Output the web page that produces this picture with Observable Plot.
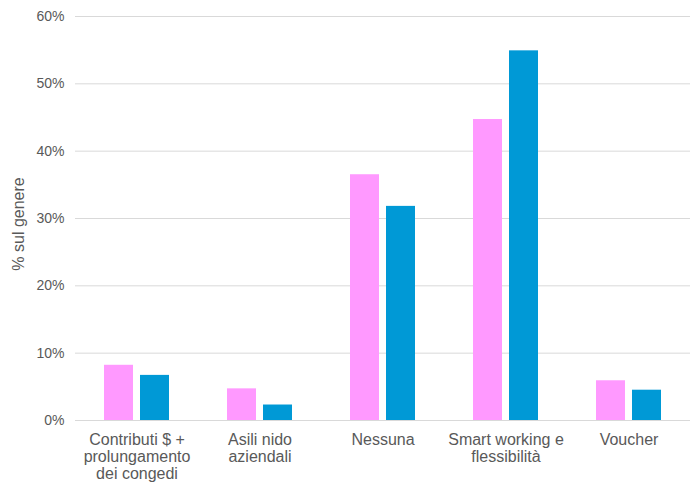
<!DOCTYPE html>
<html>
<head>
<meta charset="utf-8">
<script src="https://cdn.jsdelivr.net/npm/d3@7"></script>
<script src="https://cdn.jsdelivr.net/npm/@observablehq/plot@0.6"></script>
<style>
  html, body { margin: 0; padding: 0; background: #fff; }
</style>
</head>
<body>
<div id="chart"></div>
<script>
// Categories of family support measures (labels wrap onto several lines)
const categories = [
  "Contributi $ +\nprolungamento\ndei congedi",
  "Asili nido\naziendali",
  "Nessuna",
  "Smart working e\nflessibilità",
  "Voucher"
];
const series = ["Donne", "Uomini"];
// Percentage of respondents within each gender
const donne = [8.2, 4.7, 36.5, 44.7, 5.9];
const uomini = [6.7, 2.3, 31.8, 54.9, 4.5];
const yTicks = [0, 10, 20, 30, 40, 50, 60];

const data = categories.flatMap((c, i) => [
  {cat: c, series: "Donne", value: donne[i]},
  {cat: c, series: "Uomini", value: uomini[i]}
]);

const chart = Plot.plot({
  width: 690,
  height: 484,
  marginLeft: 74,
  marginRight: 0,
  marginTop: 16,
  marginBottom: 64,
  style: {fontFamily: "'Liberation Sans', Arial, sans-serif", fontSize: "14px", color: "#595959", background: "#fff"},
  fx: {domain: categories, padding: 0, label: null},
  x: {domain: series, paddingInner: 0.2, paddingOuter: 0.8, axis: null},
  y: {domain: [0, 60], label: null},
  color: {domain: series, range: ["#ff99ff", "#0099d6"]},
  marks: [
    Plot.gridY(yTicks, {stroke: "#d9d9d9", strokeOpacity: 1, strokeWidth: 1}),
    Plot.axisY(yTicks, {
      tickSize: 0,
      tickPadding: 11,
      tickFormat: d => d + "%",
      fill: "#595959",
      fontSize: 14,
      label: null
    }),
    Plot.barY(data, {fx: "cat", x: "series", y: "value", fill: "series"}),
    Plot.axisFx({anchor: "bottom", tickSize: 0, tickPadding: 13, fontSize: 16, lineHeight: 1.05, fill: "#595959", label: null})
  ]
});

// Rotated y-axis title
const svg = d3.select(chart);
svg.append("text")
  .attr("transform", "translate(20,224) rotate(-90)")
  .attr("text-anchor", "middle")
  .attr("dominant-baseline", "middle")
  .attr("fill", "#595959")
  .style("font-size", "16px")
  .style("font-family", "'Liberation Sans', Arial, sans-serif")
  .text("% sul genere");

document.getElementById("chart").appendChild(chart);
</script>
</body>
</html>
